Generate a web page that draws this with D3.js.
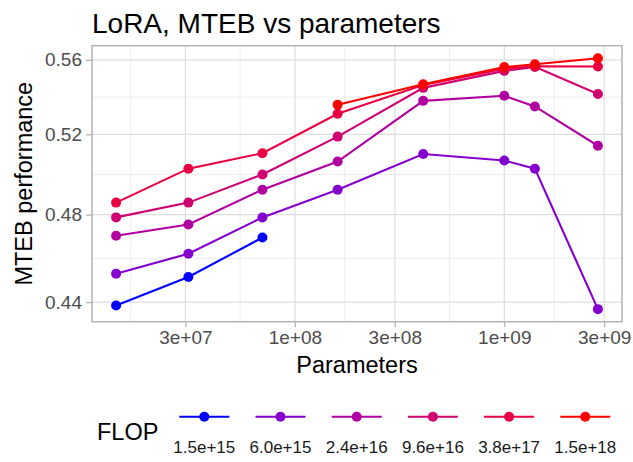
<!DOCTYPE html>
<html>
<head>
<meta charset="utf-8">
<script src="https://cdn.jsdelivr.net/npm/d3@7"></script>
<style>
  html, body { margin: 0; padding: 0; background: #fff; }
  svg { display: block; font-family: "Liberation Sans", Arial, sans-serif; }
</style>
</head>
<body>
<svg id="chart" width="633" height="462"></svg>
<script>
// ---- data ----
const params = [14e6, 31e6, 70e6, 160e6, 410e6, 1e9, 1.4e9, 2.8e9];
const flopLabels = ["1.5e+15", "6.0e+15", "2.4e+16", "9.6e+16", "3.8e+17", "1.5e+18"];
const flop_1_5e15 = [0.4385, 0.4511, 0.4692, null, null, null, null, null];
const flop_6_0e15 = [0.4526, 0.4617, 0.4787, 0.4921, 0.5099, 0.5066, 0.5025, 0.4369];
const flop_2_4e16 = [0.4700, 0.4753, 0.4921, 0.5061, 0.5376, 0.5403, 0.5346, 0.5141];
const flop_9_6e16 = [0.4787, 0.4858, 0.4996, 0.5188, 0.5446, 0.5539, 0.5561, 0.5413];
const flop_3_8e17 = [0.4858, 0.5025, 0.5103, 0.5307, 0.5462, 0.5551, 0.5564, 0.5563];
const flop_1_5e18 = [null, null, null, 0.5355, 0.5466, 0.5560, 0.5576, 0.5609];
const xTicks = [3e7, 1e8, 3e8, 1e9, 3e9];
const xTickLabels = ["3e+07", "1e+08", "3e+08", "1e+09", "3e+09"];
const yTicks = [0.44, 0.48, 0.52, 0.56];
const yTickLabels = ["0.44", "0.48", "0.52", "0.56"];

const seriesValues = [flop_1_5e15, flop_6_0e15, flop_2_4e16, flop_9_6e16, flop_3_8e17, flop_1_5e18];
const series = seriesValues.map((vals, i) => ({
  label: flopLabels[i],
  color: d3.interpolateLab("blue", "red")(i / (seriesValues.length - 1)),
  pts: vals.map((v, j) => ({x: params[j], y: v})).filter(d => d.y != null)
}));

// ---- layout ----
const svg = d3.select("#chart");
const P = {left: 92, right: 622, top: 45.7, bottom: 321.7};

function logExpand(lo, hi, f) {
  const a = Math.log(lo), b = Math.log(hi), r = (b - a) * f;
  return [Math.exp(a - r), Math.exp(b + r)];
}
const allY = seriesValues.flat().filter(v => v != null);
const x = d3.scaleLog().domain(logExpand(d3.min(params), d3.max(params), 0.05)).range([P.left, P.right]);
const y = d3.scaleLog().domain(logExpand(d3.min(allY), d3.max(allY), 0.05)).range([P.bottom, P.top]);

// minor gridlines: midpoints between majors (log space)
function minors(ticks, scale) {
  const d = scale.domain();
  const lg = ticks.map(Math.log);
  const out = [];
  const step0 = lg[1] - lg[0];
  out.push(Math.exp(lg[0] - step0 / 2));
  for (let i = 0; i < lg.length - 1; i++) out.push(Math.exp((lg[i] + lg[i + 1]) / 2));
  const stepN = lg[lg.length - 1] - lg[lg.length - 2];
  out.push(Math.exp(lg[lg.length - 1] + stepN / 2));
  return out.filter(v => v > d[0] && v < d[1]);
}

const grid = svg.append("g");
grid.selectAll(".xminor").data(minors(xTicks, x)).join("line")
  .attr("x1", d => x(d)).attr("x2", d => x(d)).attr("y1", P.top).attr("y2", P.bottom)
  .attr("stroke", "#E6E6E6").attr("stroke-width", 0.7);
grid.selectAll(".yminor").data(minors(yTicks, y)).join("line")
  .attr("y1", d => y(d)).attr("y2", d => y(d)).attr("x1", P.left).attr("x2", P.right)
  .attr("stroke", "#E6E6E6").attr("stroke-width", 0.7);
grid.selectAll(".xmajor").data(xTicks).join("line")
  .attr("x1", d => x(d)).attr("x2", d => x(d)).attr("y1", P.top).attr("y2", P.bottom)
  .attr("stroke", "#DEDEDE").attr("stroke-width", 1.2);
grid.selectAll(".ymajor").data(yTicks).join("line")
  .attr("y1", d => y(d)).attr("y2", d => y(d)).attr("x1", P.left).attr("x2", P.right)
  .attr("stroke", "#DEDEDE").attr("stroke-width", 1.2);

// axes
const xAxis = d3.axisBottom(x).tickValues(xTicks).tickFormat((d, i) => xTickLabels[i]).tickSize(5.5).tickPadding(3);
const gx = svg.append("g").attr("transform", `translate(0,${P.bottom})`).call(xAxis);
gx.select(".domain").remove();
gx.selectAll(".tick line").attr("stroke", "#B3B3B3").attr("stroke-width", 1.2);
gx.selectAll(".tick text").attr("fill", "#4D4D4D").attr("font-size", 19);

const yAxis = d3.axisLeft(y).tickValues(yTicks).tickFormat((d, i) => yTickLabels[i]).tickSize(6).tickPadding(4);
const gy = svg.append("g").attr("transform", `translate(${P.left},0)`).call(yAxis);
gy.select(".domain").remove();
gy.selectAll(".tick line").attr("stroke", "#B3B3B3").attr("stroke-width", 1.2);
gy.selectAll(".tick text").attr("fill", "#4D4D4D").attr("font-size", 19);

// series lines
const line = d3.line().x(d => x(d.x)).y(d => y(d.y));
svg.append("g").selectAll("path").data(series).join("path")
  .attr("d", d => line(d.pts)).attr("fill", "none")
  .attr("stroke", d => d.color).attr("stroke-width", 2.1);
// points
series.forEach(s => {
  svg.append("g").selectAll("circle").data(s.pts).join("circle")
    .attr("cx", d => x(d.x)).attr("cy", d => y(d.y)).attr("r", 5)
    .attr("fill", s.color);
});

// panel border
svg.append("rect").attr("x", P.left).attr("y", P.top)
  .attr("width", P.right - P.left).attr("height", P.bottom - P.top)
  .attr("fill", "none").attr("stroke", "#B3B3B3").attr("stroke-width", 1.5);

// titles
svg.append("text").attr("x", P.left).attr("y", 33).attr("font-size", 28).attr("fill", "#000")
  .text("LoRA, MTEB vs parameters");
svg.append("text").attr("x", (P.left + P.right) / 2).attr("y", 373).attr("text-anchor", "middle")
  .attr("font-size", 23.5).attr("fill", "#000").text("Parameters");
svg.append("text").attr("transform", `translate(32,${(P.top + P.bottom) / 2}) rotate(-90)`)
  .attr("text-anchor", "middle").attr("font-size", 23.5).attr("fill", "#000").text("MTEB performance");

// legend
const leg = svg.append("g");
leg.append("text").attr("x", 97).attr("y", 440).attr("font-size", 23.5).attr("fill", "#000").text("FLOP");
const keyX0 = 204.3, keyStep = 76.2, keyY = 416.7;
const keys = leg.selectAll(".key").data(series).join("g")
  .attr("transform", (d, i) => `translate(${keyX0 + i * keyStep},0)`);
keys.append("line").attr("x1", -25).attr("x2", 25).attr("y1", keyY).attr("y2", keyY)
  .attr("stroke", d => d.color).attr("stroke-width", 2.1);
keys.append("circle").attr("cx", 0).attr("cy", keyY).attr("r", 5).attr("fill", d => d.color);
keys.append("text").attr("x", 0).attr("y", 453).attr("text-anchor", "middle")
  .attr("font-size", 17).attr("fill", "#1A1A1A").text(d => d.label);
</script>
</body>
</html>
